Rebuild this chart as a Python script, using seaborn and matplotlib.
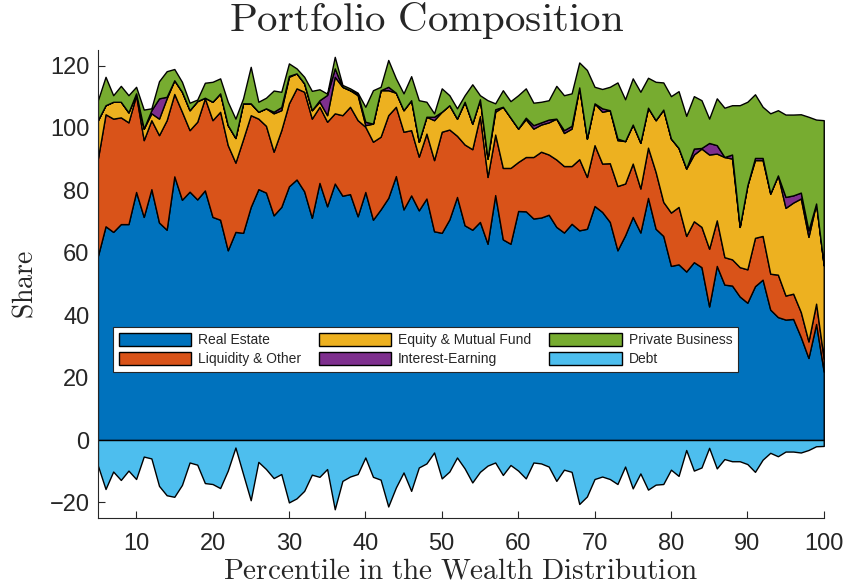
import matplotlib
matplotlib.use('Agg')
import matplotlib.pyplot as plt
import numpy as np
import seaborn as sns

# percentiles 5..100
percentile = list(range(5, 101))

real_estate = [59.0, 68.5, 66.7, 69.2, 69.2, 79.5, 71.5, 80.4, 69.7, 67.4,
               84.5, 77.0, 79.6, 77.1, 80.0, 71.5, 70.6, 60.8, 66.7, 66.4,
               74.7, 80.4, 79.3, 72.0, 74.7, 81.3, 83.5, 79.7, 71.2, 82.4,
               74.9, 82.2, 78.3, 78.8, 71.7, 79.5, 70.6, 73.9, 77.6, 84.6,
               73.9, 78.4, 73.6, 77.4, 66.9, 66.4, 70.7, 77.9, 68.8, 67.4,
               69.9, 62.9, 78.5, 64.3, 62.9, 73.4, 73.3, 71.0, 71.3, 72.2,
               68.3, 66.5, 69.3, 67.2, 67.7, 75.0, 73.1, 69.9, 60.8, 65.6,
               71.5, 66.5, 77.6, 67.7, 65.4, 55.8, 56.3, 54.0, 57.0, 55.4,
               42.8, 55.8, 49.8, 49.5, 46.0, 44.0, 49.3, 51.4, 41.8, 39.4,
               38.6, 38.8, 33.0, 26.3, 37.2, 21.9]

liquidity = [31.2, 35.9, 36.3, 34.2, 32.6, 31.0, 24.6, 22.1, 28.0, 35.1,
             26.4, 28.2, 19.7, 24.9, 29.5, 31.0, 34.6, 33.7, 22.2, 30.0,
             29.4, 22.6, 21.4, 20.4, 24.6, 26.6, 29.2, 31.9, 31.8, 24.4,
             27.1, 22.5, 25.8, 28.0, 30.8, 20.9, 25.0, 23.3, 26.5, 22.2,
             24.9, 20.9, 17.2, 20.8, 22.8, 32.4, 28.8, 19.6, 25.9, 25.8,
             33.9, 21.4, 19.4, 22.9, 24.3, 15.7, 17.4, 19.7, 21.1, 19.3,
             21.6, 21.3, 18.5, 22.8, 16.6, 19.5, 15.5, 18.8, 20.6, 16.6,
             17.1, 14.1, 16.1, 18.2, 10.9, 17.1, 18.4, 11.4, 13.1, 12.9,
             18.5, 14.6, 8.8, 8.4, 9.4, 10.7, 15.5, 14.0, 11.5, 13.6,
             7.7, 8.1, 8.0, 5.3, 6.5, 4.1]

equity = [12.3, 2.9, 5.4, 5.0, 3.2, 0.6, 3.7, 2.2, 5.3, 7.0,
          4.4, 6.4, 6.4, 6.6, 0.2, 5.9, 5.9, 6.4, 7.9, 11.5,
          3.8, 2.2, 5.6, 12.3, 6.4, 8.5, 4.8, 2.7, 2.7, 1.6,
          2.1, 11.7, 9.1, 5.3, 8.0, 0.5, 5.8, 14.9, 8.0, 4.5,
          6.9, 9.6, 4.8, 5.4, 12.8, 6.4, 7.8, 5.5, 13.7, 8.2,
          5.4, 5.9, 7.3, 19.6, 16.1, 10.7, 12.1, 9.1, 8.7, 10.3,
          13.1, 10.6, 12.0, 23.0, 12.3, 13.4, 16.6, 17.0, 14.7, 13.6,
          12.5, 14.7, 12.8, 16.6, 29.6, 23.7, 18.9, 21.6, 21.4, 25.1,
          30.2, 21.4, 32.1, 32.3, 12.9, 26.9, 24.9, 24.3, 25.7, 31.8,
          28.1, 29.2, 36.4, 33.5, 32.1, 30.0]

interest = [0, 0, 0, 0, 0, 0, 0, 1.0, 6.5, 0.5,
            0, 0, 0, 0, 0, 0, 0, 0, 0, 0,
            0, 0, 0, 0.5, 1.0, 0.3, 0, 0, 0, 0.5,
            6.5, 2.7, 0, 0, 0.5, 1.1, 0, 0, 1.1, 0,
            0, 0, 0, 0, 1.1, 0, 0, 0, 0, 0,
            0, 0, 0.8, 0, 0, 0, 0.5, 1.1, 0.7, 0.9,
            0, 0.9, 0.9, 0, 0, 0, 1.1, 0, 0.5, 0,
            0, 0, 0, 0, 0, 0, 0, 0, 1.9, 0.2,
            3.7, 2.7, 0, 1.3, 0, 0, 0.7, 0.7, 0, 0,
            3.5, 2.3, 1.9, 2.1, 0, 0]

private = [6.4, 9.1, 2.1, 5.1, 5.5, 2.1, 6.1, 0.6, 5.5, 8.2,
           3.6, 3.2, 2.4, 0.5, 4.8, 6.4, 4.8, 7.5, 6.2, 1.6,
           11.7, 3.2, 3.4, 6.8, 4.9, 4.0, 1.6, 2.1, 6.2, 3.5,
           0.4, 3.7, 0.6, 0.6, 0.3, 4.8, 10.7, 1.1, 8.6, 4.6,
           5.4, 7.7, 13.3, 4.8, 1.1, 7.5, 3.2, 3.3, 2.1, 12.6,
           1.3, 18.7, 1.9, 5.3, 5.3, 10.7, 9.4, 7.2, 6.6, 6.2,
           10.5, 11.2, 10.4, 8.0, 22.0, 5.3, 6.2, 7.5, 18.0, 13.4,
           14.8, 16.3, 9.6, 12.3, 8.7, 13.6, 18.2, 16.9, 16.8, 15.3,
           7.8, 15.0, 15.8, 15.8, 39.0, 26.8, 20.4, 16.4, 25.7, 20.9,
           26.4, 25.9, 25.1, 36.4, 26.9, 46.5]

debt = [-8.2, -15.7, -10.1, -12.8, -9.8, -12.5, -5.3, -5.9, -14.7, -17.7,
        -18.2, -14.4, -7.2, -7.9, -13.8, -14.1, -15.4, -9.8, -2.4, -10.9,
        -19.3, -7.0, -9.3, -12.2, -10.9, -20.0, -18.7, -16.3, -11.1, -11.8,
        -9.3, -22.2, -13.1, -11.7, -10.9, -5.6, -11.8, -12.7, -21.3, -15.2,
        -10.4, -16.3, -8.8, -7.5, -4.0, -12.3, -10.1, -5.6, -9.1, -13.6,
        -10.2, -8.2, -7.2, -11.2, -8.0, -9.8, -12.3, -7.2, -7.5, -8.5,
        -13.1, -9.5, -10.2, -20.5, -18.1, -12.5, -11.7, -12.5, -14.1, -8.5,
        -15.5, -10.7, -15.9, -14.3, -14.1, -9.5, -11.5, -3.2, -9.8, -8.8,
        -2.5, -9.1, -6.1, -6.8, -6.8, -7.7, -10.2, -6.3, -4.1, -5.2,
        -3.7, -3.7, -4.0, -3.2, -2.0, -1.9]

labels = ['Real Estate', 'Liquidity & Other', 'Equity & Mutual Fund',
          'Interest-Earning', 'Private Business', 'Debt']
# MATLAB default colour order
colors = ['#0072BD', '#D95319', '#EDB120', '#7E2F8E', '#77AC30', '#4DBEEE']

sns.set_style('white')
plt.rcParams['font.family'] = ['Liberation Sans', 'DejaVu Sans']
plt.rcParams['mathtext.fontset'] = 'cm'

fig = plt.figure(figsize=(8.44, 5.88), dpi=100)
ax = fig.add_axes([0.116, 0.119, 0.860, 0.796])

x = np.array(percentile)
ax.stackplot(x, real_estate, liquidity, equity, interest, private,
             colors=colors[:5], edgecolor='black', linewidth=1.0,
             labels=labels[:5])
ax.fill_between(x, 0, debt, facecolor=colors[5], edgecolor='black',
                linewidth=1.0, label=labels[5])

ax.set_xlim(5, 100)
ax.set_ylim(-25, 125)
ax.set_xticks(range(10, 101, 10))
ax.set_yticks(range(-20, 121, 20))

for side in ['top', 'right']:
    ax.spines[side].set_visible(False)
for side in ['left', 'bottom']:
    ax.spines[side].set_color('#262626')
    ax.spines[side].set_linewidth(0.8)
ax.tick_params(direction='in', length=5, width=0.8, color='#262626',
               labelsize=17, labelcolor='#262626', left=True, bottom=True)
ax.tick_params(axis='x', pad=11)
ax.tick_params(axis='y', pad=6)

# title sits centred on the figure, not on the axes
fig.text(0.505, 0.965, r'$\mathrm{Portfolio\ Composition}$', fontsize=29.5,
         ha='center', va='center')
ax.set_ylabel(r'$\mathrm{Share}$', fontsize=20, labelpad=8)
ax.set_xlabel(r'$\mathrm{Percentile\ in\ the\ Wealth\ Distribution}$',
              fontsize=21, labelpad=1)

handles, hl = ax.get_legend_handles_labels()
leg = ax.legend(handles, hl, ncol=3, loc='upper left',
                bbox_to_anchor=(0.021, 0.408),
                fontsize=10, frameon=True, fancybox=False, framealpha=1,
                facecolor='white', edgecolor='#262626',
                handlelength=5.2, handleheight=1.1, handletextpad=0.5,
                columnspacing=1.3, borderaxespad=0, borderpad=0.4,
                labelspacing=0.35)
leg.get_frame().set_linewidth(0.8)

fig.savefig('out.png', dpi=100)
